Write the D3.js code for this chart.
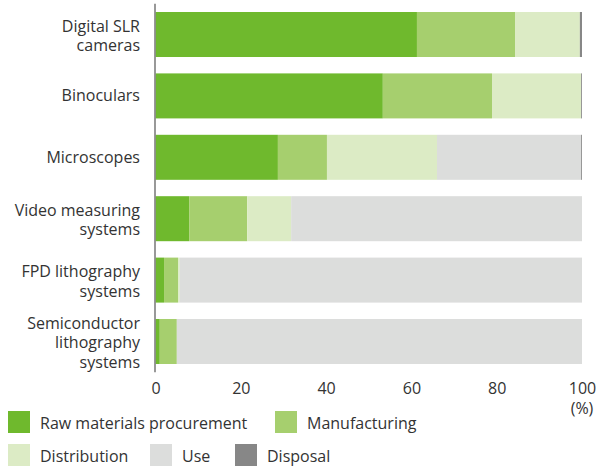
<!DOCTYPE html>
<html>
<head>
<meta charset="utf-8">
<script src="https://cdn.jsdelivr.net/npm/d3@7"></script>
<style>
  html, body { margin: 0; padding: 0; background: #fff; }
  svg { display: block; }
  text { font-family: "Open Sans", "Noto Sans", sans-serif; fill: #333; }
</style>
</head>
<body>
<svg id="chart" width="598" height="466"></svg>
<script>
// ---- data ----
const categories = [
  ["Digital SLR", "cameras"],
  ["Binoculars"],
  ["Microscopes"],
  ["Video measuring", "systems"],
  ["FPD lithography", "systems"],
  ["Semiconductor", "lithography", "systems"]
];
const seriesNames = ["Raw materials procurement", "Manufacturing", "Distribution", "Use", "Disposal"];
const rawMaterials  = [61.3, 53.3, 28.7, 7.9, 2.0, 1.0];
const manufacturing = [23.0, 25.6, 11.5, 13.6, 3.3, 4.0];
const distribution  = [15.2, 20.9, 25.8, 10.3, 0.4, 0.0];
const use           = [0.0, 0.0, 33.8, 68.2, 94.3, 95.0];
const disposal      = [0.5, 0.2, 0.2, 0.0, 0.0, 0.0];
const xTicks = [0, 20, 40, 60, 80, 100];
const unitLabel = "(%)";

const colors = ["#6fb92d", "#a6cf6e", "#dcebc5", "#dcdddc", "#878787"];

// ---- build table ----
const keys = seriesNames;
const seriesArrays = [rawMaterials, manufacturing, distribution, use, disposal];
const rows = categories.map((c, i) => {
  const r = { id: i, lines: c };
  keys.forEach((k, j) => r[k] = seriesArrays[j][i]);
  return r;
});
const stacked = d3.stack().keys(keys)(rows);

const svg = d3.select("#chart");
const x = d3.scaleLinear().domain([0, 100]).range([155.5, 582]);
const y = d3.scaleBand().domain(rows.map(r => r.id)).range([3.8, 372.2])
  .paddingInner(0.267).paddingOuter(0.1336);
const color = d3.scaleOrdinal().domain(keys).range(colors);

// bars
svg.append("g").selectAll("g").data(stacked).join("g")
  .attr("fill", d => color(d.key))
  .selectAll("rect").data(d => d).join("rect")
  .attr("x", d => x(d[0]))
  .attr("y", d => y(d.data.id))
  .attr("width", d => Math.max(0, x(d[1]) - x(d[0])))
  .attr("height", y.bandwidth());

// vertical axis line
svg.append("line")
  .attr("x1", 155).attr("x2", 155)
  .attr("y1", y.range()[0]).attr("y2", y.range()[1])
  .attr("stroke", "#7f7f7f").attr("stroke-width", 1.6);

// category labels
const lab = svg.append("g");
rows.forEach(r => {
  const n = r.lines.length;
  const cy = y(r.id) + y.bandwidth() / 2;
  const base = cy + (n > 1 ? 7 : 5.5) - (n - 1) / 2 * 19.5;
  const t = lab.append("text").attr("text-anchor", "end").attr("font-size", 16);
  r.lines.forEach((ln, i) => {
    t.append("tspan").attr("x", 140).attr("y", base + i * 19.5).text(ln);
  });
});

// x axis
const xAxis = d3.axisBottom(x).tickValues(xTicks).tickSize(0).tickPadding(10.6);
const gx = svg.append("g").attr("transform", `translate(0,${y.range()[1]})`).call(xAxis);
gx.select(".domain").remove();
gx.selectAll("text").attr("font-size", 16).attr("font-family", '"Open Sans", "Noto Sans", sans-serif').attr("fill", "#333");

svg.append("text").attr("x", x(100)).attr("y", 414).attr("text-anchor", "middle")
  .attr("font-size", 16).text(unitLabel);

// legend
const legendPos = [
  { sx: 8, ty: 411 }, { sx: 275, ty: 411 },
  { sx: 8, ty: 444 }, { sx: 150, ty: 444 }, { sx: 235, ty: 444 }
];
const lg = svg.append("g");
keys.forEach((k, i) => {
  const p = legendPos[i];
  lg.append("rect").attr("x", p.sx).attr("y", p.ty).attr("width", 22).attr("height", 22).attr("fill", color(k));
  lg.append("text").attr("x", p.sx + 32).attr("y", p.ty + 18).attr("font-size", 16).text(k);
});
</script>
</body>
</html>
